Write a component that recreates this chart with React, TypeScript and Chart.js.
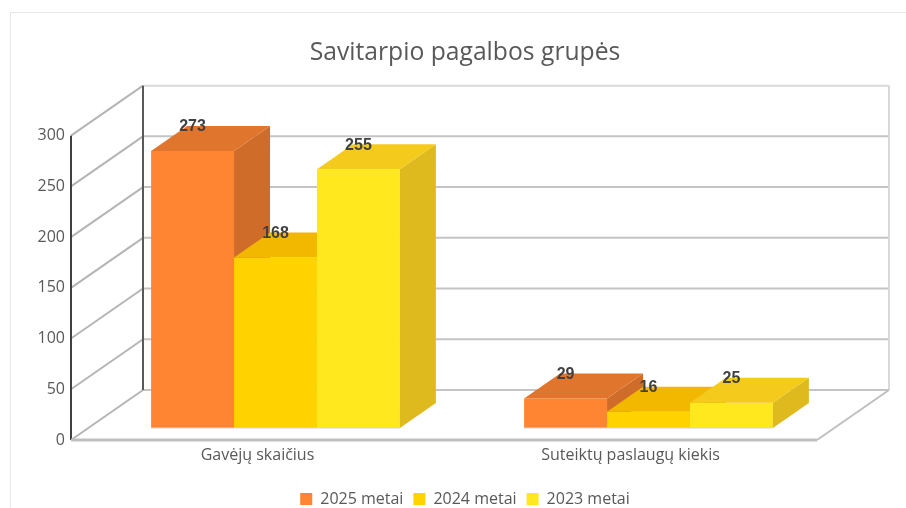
import React, { useEffect, useRef } from "react";
import { Chart, registerables } from "chart.js";

Chart.register(...registerables);

const categories = ["Gavėjų skaičius", "Suteiktų paslaugų kiekis"];
const series2025 = [273, 29];
const series2024 = [168, 16];
const series2023 = [255, 25];
const seriesNames = ["2025 metai", "2024 metai", "2023 metai"];
const frontColors = ["#FF8533", "#FFD200", "#FFE81E"];
const topColors = ["#E0752D", "#F2B800", "#F4CA1C"];
const sideColors = ["#D06C2A", "#E0AA00", "#DFBA1E"];

const FONT = "'Open Sans', sans-serif";
const WALL_DX = 72;
const WALL_DY = 50;
const BAR_SHIFT_X = 18;
const BAR_SHIFT_Y = 12;
const BAR_DX = 36;
const BAR_DY = 25;

const scene = {
  id: "scene",
  beforeDatasetsDraw(chart: any) {
    const { ctx, chartArea: a, scales } = chart;
    const y = scales.y;
    const line = (x1: number, y1: number, x2: number, y2: number, c: string, w: number) => {
      ctx.beginPath();
      ctx.moveTo(x1, y1);
      ctx.lineTo(x2, y2);
      ctx.strokeStyle = c;
      ctx.lineWidth = w;
      ctx.stroke();
    };
    ctx.save();
    for (const t of y.ticks) {
      const p = y.getPixelForValue(t.value);
      line(a.left + WALL_DX, p - WALL_DY, a.right + WALL_DX, p - WALL_DY, t.value === 300 ? "#D9D9D9" : "#C4C4C4", 2);
      line(a.left, p, a.left + WALL_DX, p - WALL_DY, "#B5B5B5", 2);
    }
    line(a.right + WALL_DX, a.top - WALL_DY, a.right + WALL_DX, a.bottom - WALL_DY, "#D9D9D9", 2);
    line(a.left + WALL_DX, a.top - WALL_DY, a.left + WALL_DX, a.bottom - WALL_DY, "#595959", 2);
    line(a.left, a.top, a.left, a.bottom, "#404040", 2);
    line(a.left, a.bottom, a.right, a.bottom, "#BFBFBF", 3);
    line(a.right, a.bottom, a.right + WALL_DX, a.bottom - WALL_DY, "#BFBFBF", 2);
    ctx.restore();
  },
  // Chart.js paints the first dataset last; the solids need left-to-right painting,
  // so the library's own pass is skipped and each controller is called in order below.
  beforeDatasetDraw() {
    return false;
  },
  afterDatasetsDraw(chart: any) {
    const { ctx } = chart;
    ctx.save();
    ctx.translate(BAR_SHIFT_X, -BAR_SHIFT_Y);
    seriesNames.forEach((_, i) => {
      const meta = chart.getDatasetMeta(i);
      meta.controller.draw();
      for (const bar of meta.data) {
        const l = bar.x - bar.width / 2;
        const r = bar.x + bar.width / 2;
        const t = bar.y;
        const b = bar.base;
        ctx.fillStyle = sideColors[i];
        ctx.beginPath();
        ctx.moveTo(r, t);
        ctx.lineTo(r + BAR_DX, t - BAR_DY);
        ctx.lineTo(r + BAR_DX, b - BAR_DY);
        ctx.lineTo(r, b);
        ctx.closePath();
        ctx.fill();
        ctx.fillStyle = topColors[i];
        ctx.beginPath();
        ctx.moveTo(l, t);
        ctx.lineTo(l + BAR_DX, t - BAR_DY);
        ctx.lineTo(r + BAR_DX, t - BAR_DY);
        ctx.lineTo(r, t);
        ctx.closePath();
        ctx.fill();
        ctx.strokeStyle = "#D4D4D4";
        ctx.lineWidth = 1;
        ctx.beginPath();
        ctx.moveTo(l, b);
        ctx.lineTo(r, b);
        ctx.stroke();
      }
    });
    ctx.restore();

    ctx.save();
    ctx.font = "bold 16px 'Liberation Sans', sans-serif";
    ctx.fillStyle = "#404040";
    ctx.textAlign = "center";
    ctx.textBaseline = "middle";
    chart.data.datasets.forEach((ds: any, i: number) => {
      chart.getDatasetMeta(i).data.forEach((bar: any, j: number) => {
        ctx.fillText(String(ds.data[j]), bar.x + BAR_SHIFT_X, bar.y - BAR_SHIFT_Y - 24);
      });
    });
    ctx.restore();
  },
};

export default function App() {
  const ref = useRef<HTMLCanvasElement>(null);
  useEffect(() => {
    const values = [series2025, series2024, series2023];
    const chart = new Chart(ref.current!, {
      type: "bar",
      data: {
        labels: categories,
        datasets: seriesNames.map((label, i) => ({
          label,
          data: values[i],
          backgroundColor: frontColors[i],
          categoryPercentage: 0.667,
          barPercentage: 1,
        })),
      },
      options: {
        responsive: false,
        animation: false,
        plugins: {
          title: {
            display: true,
            text: "Savitarpio pagalbos grupės",
            color: "#595959",
            font: { family: FONT, size: 24.7, weight: "normal" },
            padding: { top: 26, bottom: 68 },
          },
          legend: {
            position: "bottom",
            labels: {
              boxWidth: 12,
              boxHeight: 12,
              color: "#595959",
              font: { family: FONT, size: 16 },
              padding: 10,
            },
          },
          tooltip: { enabled: false },
        },
        scales: {
          x: {
            grid: { display: false, drawTicks: false },
            border: { display: false },
            ticks: { color: "#595959", font: { family: FONT, size: 16 }, padding: 6 },
            afterFit: (s: any) => {
              s.height = 41;
            },
          },
          y: {
            min: 0,
            max: 300,
            grid: { display: false, drawTicks: false },
            border: { display: false },
            afterFit: (s: any) => {
              s.width = 61;
            },
            ticks: { stepSize: 50, color: "#595959", font: { family: FONT, size: 16 }, padding: 6 },
          },
          // Empty axis: reserves the room the 3D walls need on the right without moving the title or legend.
          depth: {
            position: "right",
            grid: { display: false, drawTicks: false },
            border: { display: false },
            ticks: { display: false },
            afterFit: (s: any) => {
              s.width = 103;
            },
          },
        },
      },
      plugins: [scene],
    } as any);
    return () => chart.destroy();
  }, []);
  return (
    <div style={{ position: "fixed", left: 0, top: 0, width: 906, height: 508, overflow: "hidden", background: "#fff" }}>
      <div style={{ position: "absolute", left: 10, top: 12, width: 910, height: 510, boxSizing: "border-box", border: "1px solid #E6E6E6" }} />
      <canvas ref={ref} width={910} height={505} style={{ position: "absolute", left: 10, top: 12, display: "block" }} />
    </div>
  );
}
